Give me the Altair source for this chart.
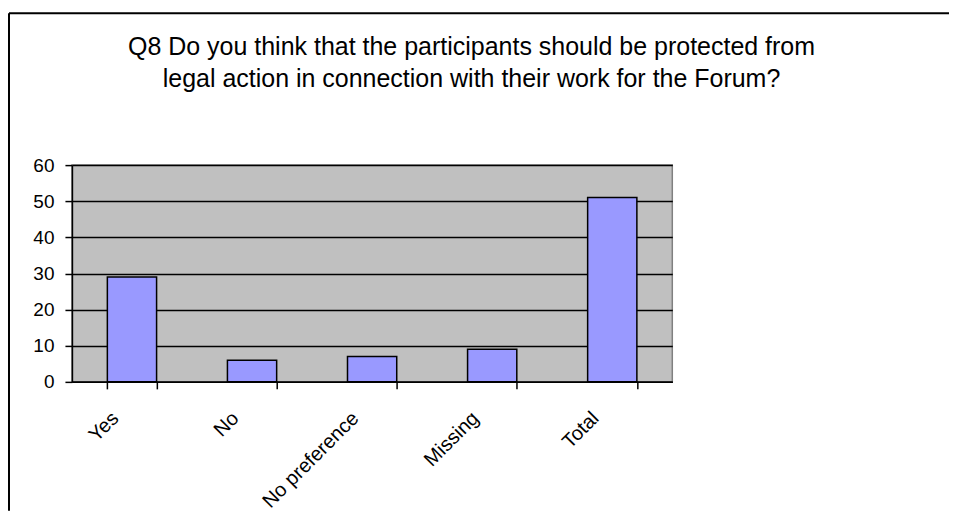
import altair as alt
import pandas as pd

categories = ["Yes", "No", "No preference", "Missing", "Total"]
values = [29, 6, 7, 9, 51]
title_lines = [
    "Q8 Do you think that the participants should be protected from",
    "legal action in connection with their work for the Forum?",
]
y_ticks = [0, 10, 20, 30, 40, 50, 60]

df = pd.DataFrame({"category": categories, "value": values})
one = pd.DataFrame({"k": [0]})

FONT = "Liberation Sans"

bars = alt.Chart(df).mark_bar(
    color="#9999FF", stroke="black", strokeWidth=1.5
).encode(
    x=alt.X(
        "category:N",
        sort=categories,
        scale=alt.Scale(paddingInner=0.59, paddingOuter=0.295),
        axis=alt.Axis(
            title=None,
            labelAngle=-45,
            labelAlign="right",
            labelBaseline="middle",
            labelOffset=-17,
            labelPadding=26,
            labelFontSize=20,
            tickBand="extent",
            tickSize=7,
            tickWidth=1.5,
            domainWidth=1.5,
            tickColor="black",
            domainColor="black",
            labelColor="black",
            labelFont=FONT,
            grid=False,
        ),
    ),
    y=alt.Y(
        "value:Q",
        scale=alt.Scale(domain=[0, 60], nice=False),
        axis=alt.Axis(
            title=None,
            values=y_ticks,
            tickSize=7,
            tickWidth=1.5,
            domainWidth=1.5,
            labelPadding=11,
            labelFontSize=19,
            labelFont=FONT,
            labelColor="black",
            tickColor="black",
            domainColor="black",
            grid=True,
            gridColor="black",
            gridWidth=1.5,
            gridOpacity=1,
        ),
    ),
)

frame_top = alt.Chart(one).mark_rule(color="black", strokeWidth=2).encode(
    x=alt.value(-63), x2=alt.value(878), y=alt.value(-152)
)
frame_left = alt.Chart(one).mark_rule(color="black", strokeWidth=2).encode(
    x=alt.value(-63), y=alt.value(-152), y2=alt.value(346)
)

title1 = alt.Chart(one).mark_text(
    text=title_lines[0], font=FONT, fontSize=25, align="center",
    baseline="alphabetic", color="black"
).encode(x=alt.value(400), y=alt.value(-110))
title2 = alt.Chart(one).mark_text(
    text=title_lines[1], font=FONT, fontSize=25, align="center",
    baseline="alphabetic", color="black"
).encode(x=alt.value(400), y=alt.value(-78))

chart = alt.layer(bars, frame_top, frame_left, title1, title2).properties(
    width=601,
    height=217,
    padding={"left": 0, "top": 4, "right": 0, "bottom": 0},
    background="white",
).configure(
    font=FONT
).configure_view(
    fill="#C0C0C0", stroke="#808080", strokeWidth=1.5
)

chart.save("out.html", embed_options={"renderer": "svg", "actions": False})
